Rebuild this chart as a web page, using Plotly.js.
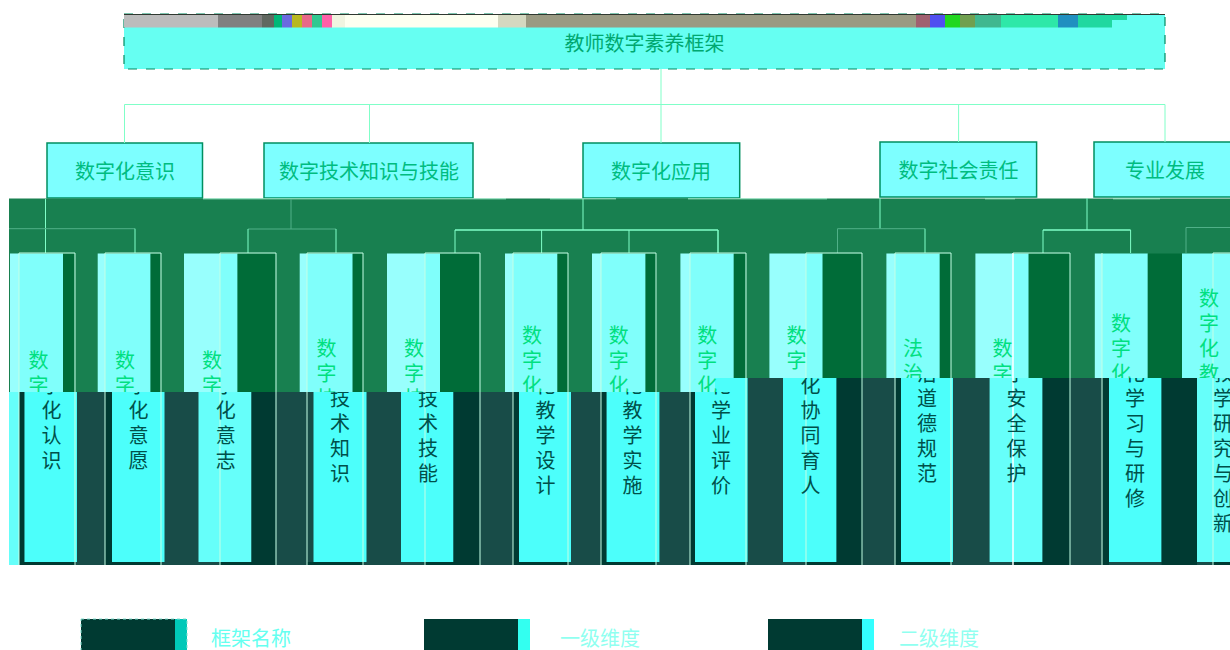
<!DOCTYPE html>
<html><head><meta charset="utf-8">
<script src="https://cdn.plot.ly/plotly-3.0.1.min.js"></script>
<style>html,body{margin:0;padding:0;background:#fff}</style></head>
<body><div id="chart" style="width:1230px;height:650px"></div>
<script>
// ---- content ----
const rootLabel = "教师数字素养框架";
const level1Labels = ["数字化意识","数字技术知识与技能","数字化应用","数字社会责任","专业发展"];
const level2Labels = ["数字化认识","数字化意愿","数字化意志","数字技术知识","数字技术技能","数字化教学设计","数字化教学实施","数字化学业评价","数字化协同育人","法治道德规范","数字安全保护","数字化学习与研修","数字化教学研究与创新"];
const legendLabels = ["框架名称","一级维度","二级维度"];

// ---- geometry (layout of the diagram, in page pixels) ----
const level1Centers = [125,369,661,958.6,1165];
const level1Boxes = [[47,202.5,143,198],[264,473,143,198],[583,739.7,143,198],[880,1036.6,142,197],[1094,1240,142,197]];
const level2UpperX = [38.4,125,212,326.6,414,532,618.7,707.3,796.6,913,1002.6,1121,1209];
const level2LowerX = [51.4,138.4,225.8,340,428,545.6,632.5,721,810.5,927,1016.4,1135,1223];
const level2Outlines = [[19,75],[105,161],[220,276],[307,363],[425,480],[513,568],[601,656],[690,746],[806,862],[895,951],[1013,1070],[1102,1102],[1213,1232]];
const splitStepX = 715, splitLeft = 392, splitRight = 378, rowCenter = 410, charStep = 25, textDy = 3, halfGlyph = 10;

// ---- colours ----
const GREEN="#188050", STRIP="#006c38", PALE="#80fffb", PALER="#98fffd", TEAL="#184c48", DARK="#003a32",
      CYAN="#4cfffb", CYAN2="#66fffa", ROOT="#66fff2", L1="#7dffff", LINE="#80ffc8", LINE2="#c4ffe6";

const upperColumns = [
 [10,19,PALER],[19,63,PALE],[63,74,STRIP],[97.7,105,PALER],[105,150.6,PALE],[150.6,160.5,STRIP],
 [184,220,PALER],[220,237.6,PALE],[237.6,275.6,STRIP],[299.7,307,PALER],[307,352.7,PALE],[352.7,363,STRIP],
 [387,425,PALER],[425,440,PALE],[440,479.6,STRIP],[505,513,PALER],[513,557.5,PALE],[557.5,568,STRIP],
 [592,601,PALER],[601,645.6,PALE],[645.6,656.3,STRIP],[680.4,690,PALER],[690,733.8,PALE],[733.8,745,STRIP],
 [769.4,806,PALER],[806,822.7,PALE],[822.7,862.3,STRIP],[886.4,895,PALER],[895,939.8,PALE],[939.8,951,STRIP],
 [975.4,1013,PALER],[1013,1028.7,PALE],[1028.7,1070,STRIP],[1094.8,1102,PALER],[1102,1147.8,PALE],[1147.8,1182,STRIP],[1182,1230,PALE]];
const lowerColumns = [
 [9,19,CYAN2],[19,24.5,DARK],[24.5,77,CYAN],[105,112,DARK],[112,164.5,CYAN],[198.5,251.5,CYAN2],[251.5,275.6,DARK],
 [313.5,366.5,CYAN],[401,453.5,CYAN],[453.5,479.6,DARK],[513,519,DARK],[519,571,CYAN],[601,606.6,DARK],[606.6,659.4,CYAN],
 [690,695,DARK],[695,747.6,CYAN],[783,836.6,CYAN],[836.6,862.3,DARK],[895.5,901,DARK],[901,953,CYAN],
 [989.6,1042.6,CYAN2],[1042.6,1070,DARK],[1102.7,1109,DARK],[1109,1161.6,CYAN],[1161.6,1197,DARK],[1197,1230,CYAN2]];
const rootGlitch = [
 [124,218,"#bcbcbc"],[218,262,"#808080"],[262,274,"#606860"],[274,282,"#00b878"],[282,292,"#6a6ae0"],[292,302,"#b8b820"],
 [302,312,"#e86888"],[312,322,"#30c890"],[322,332,"#ff60a8"],[332,345,"#f0f4e0"],[345,498,"#fdfff0"],[498,526,"#d4d8c0"],
 [526,916,"#9a9a82"],[916,930,"#a06070"],[930,945,"#5050f0"],[945,960,"#20d820"],[960,975,"#70a050"],[975,1001,"#40b890"],
 [1001,1058,"#2ee8a8"],[1058,1078,"#2090c0"],[1078,1112,"#20d8a0"]];
const legendSwatches = [[81,175,187,"#00c8b8"],[424,518,530,"#33fff0"],[768,862,874,"#33ffff"]];
const legendTextCenters = [251,600,939];
const paleTopEdge = [[203,506],[550,616],[688,827],[985,1015],[1113,1160]];
// connectors: x0,y0,x1,y1,colour,width
const connectors = [
 [124.5,104.5,1165,104.5,LINE,1],[661,69,661,143,LINE,1],[124.5,104.5,124.5,143,LINE,1],[369.5,104.5,369.5,143,LINE,1],[958.6,104.5,958.6,142,LINE,1],[1165,104.5,1165,142,LINE,1],
 [45.5,199,45.5,253,LINE,1],[9,228.7,135,228.7,"#50b088",1],[135,228.7,135,253,LINE,1],
 [291,199,291,229,"#50b088",1],[248,229,336,229,"#50b088",1],[248,229,248,253,LINE,1],[336,229,336,253,LINE,1],
 [583,199,583,230,LINE,1],[455,230,718,230,LINE,1.5],[455,230,455,253,LINE,1],[541.6,230,541.6,253,LINE,1],[629,230,629,253,LINE,1],[718,230,718,253,LINE,1.5],
 [880,198,880,229,LINE,1],[837.5,228.7,925,228.7,"#50b088",1],[837.5,228.7,837.5,253,"#50b088",1],[925,228.7,925,253,LINE,1],
 [1087,198,1087,230,LINE,1],[1043,230,1130.6,230,LINE,1.5],[1043,230,1043,253,LINE,1],[1130.6,230,1130.6,253,LINE,1],
 [1186,227.5,1230,227.5,"#50b088",1],[1186,227.5,1186,253,"#50b088",1]];

const shapes = [];
const rect = (x0,y0,x1,y1,fill,line) => shapes.push({type:"rect",xref:"x",yref:"y",layer:"below",x0,y0,x1,y1,fillcolor:fill||"rgba(0,0,0,0)",line:line||{width:0}});
const seg = (x0,y0,x1,y1,color,width) => shapes.push({type:"line",xref:"x",yref:"y",layer:"below",x0,y0,x1,y1,line:{color,width}});

// root box and its glitch band
rect(124,14,1165,69,ROOT,{color:"#008a60",width:1.2,dash:"dash"});
rootGlitch.forEach(b=>rect(b[0],14.5,b[1],27.5,b[2]));
rect(1112,14.5,1127,20,"#20d8a0");
seg(124,14.5,1165,14.5,"#303830",1);
// level 1 boxes
level1Boxes.forEach(b=>rect(b[0],b[2],b[1],b[3],L1,{color:"#008f60",width:1.5}));
// lower-level field
rect(9,198.5,1230,392,GREEN);
rect(715,378,1230,392,TEAL);
rect(9,392,1230,565,TEAL);
paleTopEdge.forEach(p=>seg(p[0],198.8,p[1],198.8,"#a8f0d0",1));
// upper columns
upperColumns.forEach(c=>rect(c[0],253.5,c[1],c[0]>=splitStepX?splitRight:splitLeft,c[2]));
// lower columns
level2Outlines.forEach(o=>rect(o[0],562,o[1],565,DARK));
lowerColumns.forEach(c=>{
  const bottom = c[2]===DARK?565:(c[0]===9?565:562);
  if(c[0]<splitStepX && c[1]>splitStepX){
    rect(c[0],splitLeft,splitStepX,bottom,c[2]);
    rect(splitStepX,splitRight,c[1],bottom,c[2]);
  } else rect(c[0],c[0]>=splitStepX?splitRight:splitLeft,c[1],bottom,c[2]);
});
connectors.forEach(c=>seg(c[0],c[1],c[2],c[3],c[4],c[5]));
// thin outlines of the second-level boxes
level2Outlines.forEach((o,i)=>{
  const w = i===10?1.5:1;
  seg(o[0],253,o[0],565,i===10?"#ffffff":LINE2,w);
  if(o[1]>o[0]){ seg(o[1],253,o[1],565,LINE2,1); seg(o[0],253,o[1],253,LINE2,1); }
});
// legend swatches
legendSwatches.forEach((s,i)=>{
  rect(s[1],619,s[2],650,s[3]);
  rect(s[0],619,s[1],650,DARK);
  if(i===0) rect(s[0],619,s[2],652,"rgba(0,0,0,0)",{color:"#80e0d0",width:1,dash:"dot"});
});

// text traces: each second-level character goes in the band(s) where it can be seen
const FONT = '"Noto Sans CJK SC","Noto Sans",sans-serif';
const textTrace = (x,y,text,color,size,ya) => ({type:"scatter",mode:"text",x,y,text,xaxis:"x",yaxis:ya||"y",
  textposition:"middle center",cliponaxis:true,hoverinfo:"skip",showlegend:false,textfont:{family:FONT,size,color}});
const cols = {up:{L:[[],[],[]],R:[[],[],[]]},lo:{L:[[],[],[]],R:[[],[],[]]}};
level2Labels.forEach((label,i)=>{
  const chars = Array.from(label), first = rowCenter - charStep*(chars.length-1)/2;
  const side = level2UpperX[i] < splitStepX ? "L":"R";
  const split = side==="L"?splitLeft:splitRight;
  chars.forEach((ch,k)=>{
    const y = first + k*charStep + textDy;
    if(y-halfGlyph < split){ cols.up[side][0].push(level2UpperX[i]); cols.up[side][1].push(y); cols.up[side][2].push(ch); }
    if(y+halfGlyph > split){ cols.lo[side][0].push(level2LowerX[i]); cols.lo[side][1].push(y); cols.lo[side][2].push(ch); }
  });
});
const data = [
  textTrace([644.5],[43+textDy],[rootLabel],"#00a870",20),
  textTrace(level1Centers,level1Boxes.map(b=>(b[2]+b[3])/2+textDy),level1Labels,"#00bc80",20),
  textTrace(legendTextCenters.slice(0,1),[638+textDy],legendLabels.slice(0,1),"#66fff0",20),
  textTrace(legendTextCenters.slice(1),[638+textDy,638+textDy],legendLabels.slice(1),"#90fff0",20),
  textTrace(cols.up.L[0],cols.up.L[1],cols.up.L[2],"#00e080",20,"y2"),
  textTrace(cols.up.R[0],cols.up.R[1],cols.up.R[2],"#00e080",20,"y3"),
  textTrace(cols.lo.L[0],cols.lo.L[1],cols.lo.L[2],"#00504a",20,"y4"),
  textTrace(cols.lo.R[0],cols.lo.R[1],cols.lo.R[2],"#00504a",20,"y5")
];
const hidden = {visible:false,fixedrange:true};
const H = 650;
const layout = {
  width:1230,height:650,margin:{l:0,r:0,t:0,b:0,pad:0},paper_bgcolor:"#ffffff",plot_bgcolor:"rgba(0,0,0,0)",showlegend:false,
  xaxis:{...hidden,range:[0,1230],domain:[0,1]},
  yaxis:{...hidden,range:[650,0],domain:[0,1]},
  yaxis2:{...hidden,range:[splitLeft,0],domain:[1-splitLeft/H,1],anchor:"x"},
  yaxis3:{...hidden,range:[splitRight,0],domain:[1-splitRight/H,1],anchor:"x"},
  yaxis4:{...hidden,range:[H,splitLeft],domain:[0,1-splitLeft/H],anchor:"x"},
  yaxis5:{...hidden,range:[H,splitRight],domain:[0,1-splitRight/H],anchor:"x"},
  shapes
};
Plotly.newPlot("chart",data,layout,{displayModeBar:false,staticPlot:true});
</script></body></html>
